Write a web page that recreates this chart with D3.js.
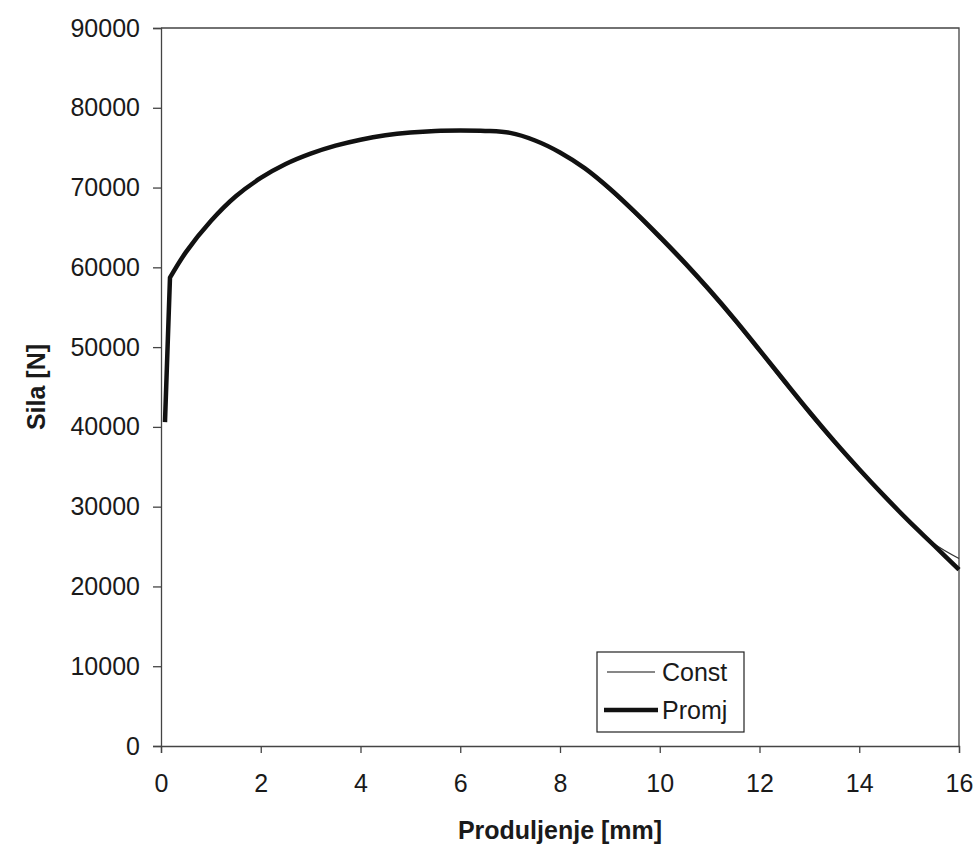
<!DOCTYPE html>
<html>
<head>
<meta charset="utf-8">
<script src="https://cdn.jsdelivr.net/npm/d3@7"></script>
<style>
  html, body { margin: 0; padding: 0; background: #fff; overflow: hidden; }
  svg { display: block; }
  svg text { font-family: "Liberation Sans", Arial, sans-serif; fill: #1a1a1a; }
</style>
</head>
<body>
<div id="chart"></div>
<script>
// elongation [mm]
const produljenje = [0.08, 0.18, 0.5, 1, 1.5, 2, 2.5, 3, 3.5, 4, 4.5, 5, 5.5, 6, 6.5, 7, 7.5, 8,
    8.5, 9, 9.5, 10, 10.5, 11, 11.5, 12, 12.5, 13, 13.5, 14, 14.5, 15, 15.5, 16];
// force [N], variable
const promj = [40600, 58700, 61900, 65800, 68900, 71200, 72950, 74250, 75250, 76000, 76550, 76900, 77100, 77150, 77100, 76850, 75900, 74400,
    72400, 69850, 66950, 63850, 60600, 57150, 53500, 49650, 45750, 41900, 38200, 34700, 31350, 28150, 25150, 22100];
// force [N], constant
const konst = [40600, 58700, 61900, 65800, 68900, 71200, 72950, 74250, 75250, 76000, 76550, 76900, 77100, 77150, 77100, 76850, 75900, 74350,
    72250, 69600, 66650, 63500, 60250, 56800, 53150, 49300, 45400, 41550, 37900, 34450, 31200, 28100, 25350, 23500];

const xTicks = [0, 2, 4, 6, 8, 10, 12, 14, 16];
const yTicks = [0, 10000, 20000, 30000, 40000, 50000, 60000, 70000, 80000, 90000];
const serije = ["Const", "Promj"];

const width = 976, height = 847;
const margin = { top: 28, right: 17, bottom: 101, left: 161 };
const innerWidth = width - margin.left - margin.right;
const innerHeight = height - margin.top - margin.bottom;

const svg = d3.select("#chart").append("svg")
    .attr("width", width).attr("height", height);
const g = svg.append("g").attr("transform", `translate(${margin.left},${margin.top})`);

const x = d3.scaleLinear().domain([0, 16]).range([0, innerWidth]);
const y = d3.scaleLinear().domain([0, 90000]).range([innerHeight, 0]);

// okvir (gore + desno)
g.append("path")
    .attr("d", `M0,0H${innerWidth}V${innerHeight}`)
    .attr("fill", "none").attr("stroke", "#444").attr("stroke-width", 1.3);

// osi
const xAxis = g.append("g").attr("transform", `translate(0,${innerHeight})`)
    .call(d3.axisBottom(x).tickValues(xTicks).tickSize(7).tickPadding(21).tickFormat(d3.format("d")));
const yAxis = g.append("g")
    .call(d3.axisLeft(y).tickValues(yTicks).tickSize(8).tickPadding(13).tickFormat(d3.format("d")));
[xAxis, yAxis].forEach(a => {
    a.select(".domain").attr("stroke", "#444").attr("stroke-width", 1.3);
    a.selectAll(".tick line").attr("stroke", "#444").attr("stroke-width", 1.3);
    a.selectAll(".tick text").style("font-size", "25px").attr("fill", "#1a1a1a");
});

// naslovi osi
svg.append("text")
    .attr("x", margin.left + innerWidth / 2).attr("y", 839)
    .attr("text-anchor", "middle")
    .style("font-size", "25px").style("font-weight", "bold")
    .text("Produljenje [mm]");
svg.append("text")
    .attr("transform", `translate(45,${margin.top + innerHeight / 2}) rotate(-90)`)
    .attr("text-anchor", "middle")
    .style("font-size", "25px").style("font-weight", "bold")
    .text("Sila [N]");

// krivulje: prvi (elasticni) segment ravno, ostatak zagladjen
const smooth = d3.line().x(d => x(d[0])).y(d => y(d[1])).curve(d3.curveCatmullRom.alpha(0.5));
const ravno = d3.line().x(d => x(d[0])).y(d => y(d[1]));
function krivulja(vals) {
    const pts = produljenje.map((p, i) => [p, vals[i]]);
    return ravno(pts.slice(0, 2)) + smooth(pts.slice(1)).replace(/^M/, "L");
}

g.append("path").attr("d", krivulja(konst))
    .attr("fill", "none").attr("stroke", "#333").attr("stroke-width", 1.2);
g.append("path").attr("d", krivulja(promj))
    .attr("fill", "none").attr("stroke", "#111").attr("stroke-width", 4.5)
    .attr("stroke-linejoin", "round");

// legenda
const leg = svg.append("g").attr("transform", "translate(597,652)");
leg.append("rect").attr("width", 147).attr("height", 80)
    .attr("fill", "#fff").attr("stroke", "#222").attr("stroke-width", 1.2);
const legStil = { Const: { w: 1.2, x0: 10, x1: 58 }, Promj: { w: 4.5, x0: 7, x1: 61 } };
serije.forEach((s, i) => {
    const cy = 20 + i * 38;
    leg.append("line")
        .attr("x1", legStil[s].x0).attr("x2", legStil[s].x1)
        .attr("y1", cy).attr("y2", cy)
        .attr("stroke", "#111").attr("stroke-width", legStil[s].w);
    leg.append("text").attr("x", 65).attr("y", cy).attr("dy", "0.35em")
        .style("font-size", "25px").text(s);
});
</script>
</body>
</html>
